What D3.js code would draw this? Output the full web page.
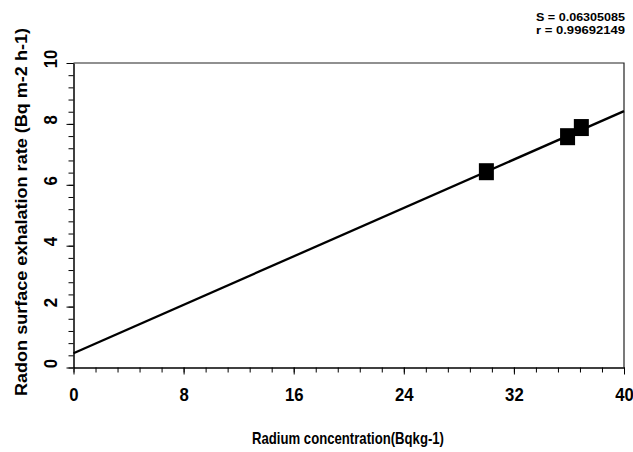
<!DOCTYPE html>
<html lang="en">
<head>
    <meta charset="UTF-8">
    <title>Radon exhalation vs radium</title>
    <script src="https://d3js.org/d3.v7.min.js"></script>
    <style>
        body { margin: 0; background: #fff; }
        .bold { font-family: "Liberation Sans", Arial, sans-serif; font-weight: bold; }
    </style>
</head>
<body>
<svg id="viz" width="633" height="452"></svg>

<script>
    // measured points
    var radium = [30, 35.9, 36.9];
    var exhalation = [6.43, 7.58, 7.88];

    // fitted line end points
    var fitX = [0, 40];
    var fitY = [0.47, 8.42];

    var xTicks = [0, 8, 16, 24, 32, 40];
    var yTicks = [0, 2, 4, 6, 8, 10];
    var statLines = ["S = 0.06305085", "r = 0.99692149"];

    var svg = d3.select('#viz');
    var plotL = 73.5, plotR = 624, plotT = 63, plotB = 367.5;

    var x = d3.scaleLinear().domain([0, 40]).range([plotL, plotR]);
    var y = d3.scaleLinear().domain([0, 10]).range([plotB, plotT]);

    // frame (top and right)
    svg.append('path')
        .attr('d', 'M' + plotL + ',' + plotT + 'H' + plotR + 'V' + plotB)
        .attr('fill', 'none')
        .attr('stroke', '#222')
        .attr('stroke-width', 1.2);

    // x axis, minor ticks every 1.6
    var xMinor = d3.range(0, 40.01, 1.6);
    svg.append('g')
        .attr('transform', 'translate(0,' + plotB + ')')
        .call(d3.axisBottom(x).tickValues(xMinor).tickSize(5).tickFormat(''))
        .call(function (g) { g.select('.domain').remove(); });
    svg.append('g')
        .attr('transform', 'translate(0,' + plotB + ')')
        .call(d3.axisBottom(x).tickValues(xTicks).tickSize(7).tickPadding(13).tickSizeOuter(0))
        .call(function (g) {
            g.select('.domain').attr('stroke-width', 1.5);
            g.selectAll('text')
                .attr('class', 'bold')
                .attr('font-size', 19)
                .attr('fill', '#000')
                .attr('transform', 'scale(0.88,1)');
        });

    // y axis, minor ticks every 0.4
    var yMinor = d3.range(0, 10.01, 0.4);
    svg.append('g')
        .attr('transform', 'translate(' + plotL + ',0)')
        .call(d3.axisLeft(y).tickValues(yMinor).tickSize(5).tickFormat(''))
        .call(function (g) { g.select('.domain').remove(); });
    svg.append('g')
        .attr('transform', 'translate(' + plotL + ',0)')
        .call(d3.axisLeft(y).tickValues(yTicks).tickSize(7).tickSizeOuter(0))
        .call(function (g) {
            g.select('.domain').attr('stroke-width', 1.5);
            g.selectAll('text').remove();
        });

    // rotated y tick labels
    svg.selectAll('.ylab')
        .data(yTicks)
        .enter()
        .append('text')
        .attr('class', 'ylab bold')
        .attr('font-size', 19)
        .attr('text-anchor', 'middle')
        .attr('transform', function (d) {
            return 'translate(57,' + (y(d) - 4) + ') rotate(-90) scale(0.88,1)';
        })
        .text(function (d) { return d; });

    // fitted line
    svg.append('path')
        .datum(d3.zip(fitX, fitY))
        .attr('d', d3.line().x(function (d) { return x(d[0]); }).y(function (d) { return y(d[1]); }))
        .attr('fill', 'none')
        .attr('stroke', '#000')
        .attr('stroke-width', 2.3);

    // square markers
    svg.selectAll('.pt')
        .data(d3.zip(radium, exhalation))
        .enter()
        .append('rect')
        .attr('class', 'pt')
        .attr('x', function (d) { return x(d[0]) - 7.5; })
        .attr('y', function (d) { return y(d[1]) - 8.5; })
        .attr('width', 15)
        .attr('height', 17)
        .attr('fill', '#000');

    // titles
    svg.append('text')
        .attr('class', 'bold')
        .attr('font-size', 17)
        .attr('text-anchor', 'middle')
        .attr('x', 348)
        .attr('y', 444)
        .attr('textLength', 192)
        .attr('lengthAdjust', 'spacingAndGlyphs')
        .text('Radium concentration(Bqkg-1)');

    svg.append('text')
        .attr('class', 'bold')
        .attr('font-size', 17)
        .attr('text-anchor', 'middle')
        .attr('transform', 'translate(27,212) rotate(-90)')
        .attr('textLength', 368)
        .attr('lengthAdjust', 'spacingAndGlyphs')
        .text('Radon surface exhalation rate (Bq m-2 h-1)');

    svg.selectAll('.stat')
        .data(statLines)
        .enter()
        .append('text')
        .attr('class', 'stat bold')
        .attr('font-size', 11.3)
        .attr('text-anchor', 'end')
        .attr('x', 625)
        .attr('y', function (d, i) { return 20.5 + i * 13; })
        .attr('textLength', 89)
        .attr('lengthAdjust', 'spacingAndGlyphs')
        .text(function (d) { return d; });
</script>
</body>
</html>
